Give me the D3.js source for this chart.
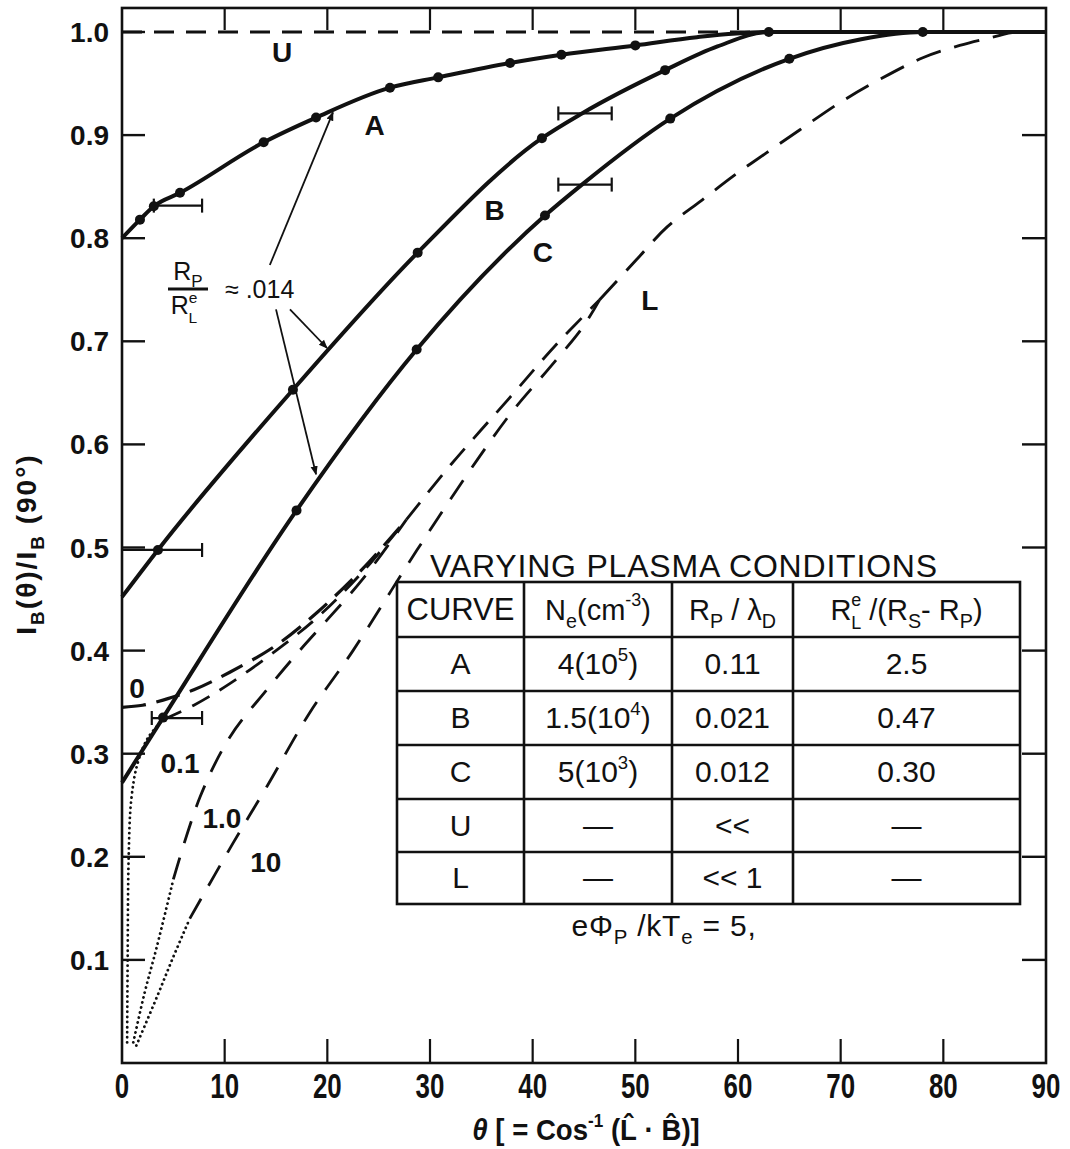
<!DOCTYPE html>
<html><head><meta charset="utf-8">
<script src="https://cdn.jsdelivr.net/npm/d3@7"></script>
<style>
body{margin:0;background:#fff;}
svg{display:block;}
text{font-family:"Liberation Sans", Arial, Helvetica, sans-serif; fill:#111;}
</style></head><body>
<svg id="chart" width="1070" height="1149"></svg>
<script>
// ---------------- data ----------------
const xTickValues = [0,10,20,30,40,50,60,70,80,90];
const yTickValues = [0.1,0.2,0.3,0.4,0.5,0.6,0.7,0.8,0.9,1.0];

const curveA = [[0,0.80],[1.75,0.818],[3.1,0.831],[5.65,0.844],[13.8,0.893],[18.9,0.917],[26.1,0.946],[30.8,0.956],[37.8,0.970],[42.8,0.978],[50,0.987],[56,0.995],[63,1.0],[90,1.0]];
const curveB = [[0,0.452],[3.5,0.4976],[16.65,0.653],[28.8,0.786],[40.9,0.897],[44.8,0.921],[52.9,0.963],[58,0.986],[63,1.0],[90,1.0]];
const curveC = [[0,0.272],[4,0.335],[17,0.536],[28.7,0.692],[41.2,0.822],[44.8,0.852],[53.4,0.916],[65,0.974],[72,0.993],[78,1.0],[90,1.0]];
const curveU = [[0,1.0],[90,1.0]];

const dotsA = [[1.75,0.818],[3.1,0.831],[5.65,0.844],[13.8,0.893],[18.9,0.917],[26.1,0.946],[30.8,0.956],[37.8,0.970],[42.8,0.978],[50,0.987]];
const dotsB = [[3.5,0.4976],[16.65,0.653],[28.8,0.786],[40.9,0.897],[52.9,0.963],[63,1.0]];
const dotsC = [[4,0.335],[17,0.536],[28.7,0.692],[41.2,0.822],[53.4,0.916],[65,0.974],[78,1.0]];

// horizontal error bars: [y, xLow, xHigh]
const errorBars = [[0.8316,3.1,7.8],[0.4976,0,7.8],[0.3346,2.9,7.8],[0.921,42.5,47.7],[0.852,42.5,47.7]];

// lower family (parameter 0, 0.1, 1.0, 10) and limit L
const curve0 = [[0,0.345],[2,0.347],[4,0.352],[7,0.362],[10.5,0.379],[15,0.405],[19,0.437],[23.5,0.48],[27.7,0.527]];
const curve01Dotted = [[0.5,0.02],[0.55,0.1],[0.65,0.2],[0.9,0.255],[1.5,0.29],[2.5,0.315],[4,0.333]];
const curve01Dashed = [[4,0.333],[7,0.347],[10.5,0.368],[15,0.4],[19,0.432],[23.5,0.477],[27.7,0.527]];
const curve1Dotted = [[1.1,0.02],[2.2,0.068],[3.4,0.113],[5,0.178]];
const curve1Dashed = [[5,0.178],[7.6,0.258],[10.5,0.316],[14.1,0.362],[17.3,0.40],[20,0.43],[23.5,0.47],[27.7,0.527]];
const curve10Dotted = [[1.4,0.017],[3.4,0.064],[5,0.103],[6.6,0.14]];
const curve10Dashed = [[6.6,0.14],[10.8,0.213],[14.1,0.268],[18.3,0.34],[22.5,0.40],[28.7,0.497],[34.6,0.585],[38.1,0.633],[41.7,0.675],[44.9,0.714],[46.5,0.74]];
const curveMerged = [[27.7,0.527],[32,0.58],[38,0.648],[42.4,0.698],[46.5,0.74]];
const curveL = [[46.5,0.74],[50.1,0.779],[53.1,0.811],[56.5,0.837],[59.5,0.86],[62.8,0.883],[66,0.905],[70,0.932],[73.8,0.954],[78,0.975],[81.6,0.987],[84.8,0.995],[87,1.0],[90,1.0]];

const curveLabels = ["U","A","B","C","L"];
const curveLabelAt = [[15.6,0.981],[24.6,0.91],[36.3,0.827],[41,0.787],[51.4,0.74]];
const paramLabels = ["0","0.1","1.0","10"];
const paramLabelAt = [[1.46,0.364],[5.65,0.291],[9.74,0.238],[14,0.195]];

// annotation  R_P/R_L^e ≈ .014 : pointer start / end (data units)
const pointerFrom = [[14.4,0.774],[16.36,0.731],[15,0.731]];
const pointerTo = [[20.55,0.922],[19.97,0.6935],[18.9,0.571]];

// table
const tableTitle = "VARYING PLASMA CONDITIONS";
const tableHeader = [[["CURVE"]],[["N"],["e","sub"],["(cm"],["-3","sup"],[")"]],[["R"],["P","sub"],[" / λ"],["D","sub"]],[["R"],["e","sup"],["L","subx"],[" /(R"],["S","sub"],["- R"],["P","sub"],[")"]]];
const tableCurve = ["A","B","C","U","L"];
const tableNe = [[["4(10"],["5","sup"],[")"]],[["1.5(10"],["4","sup"],[")"]],[["5(10"],["3","sup"],[")"]],[["—"]],[["—"]]];
const tableRpLd = ["0.11","0.021","0.012","<<","<< 1"];
const tableRatio = ["2.5","0.47","0.30","—","—"];
const footnote = [["eΦ"],["P","sub"],[" /kT"],["e","sub"],["  =  5,"]];

// ---------------- drawing ----------------
const svg = d3.select("#chart");
const x = d3.scaleLinear().domain([0,90]).range([122,1046]);
const y = d3.scaleLinear().domain([0,1]).range([1063,32]);
const yTop = 1.0233;

function rich(g, px, py, segs, size, anchor){
  const t = g.append("text").attr("x",px).attr("y",py).attr("font-size",size).attr("text-anchor",anchor||"middle");
  let cur = 0;
  segs.forEach(s=>{
    const kind = s[1];
    let shift = 0, fs = size;
    if(kind==="sub"){shift=0.28; fs=size*0.68;}
    if(kind==="sup"){shift=-0.45; fs=size*0.62;}
    const ts = t.append("tspan").text(s[0]).attr("font-size",fs);
    if(kind==="subx"){ // subscript placed under preceding superscript
      ts.attr("font-size",size*0.62).attr("dx",-size*0.35);
      shift=0.34;
    }
    const dy = (shift-cur)*size;
    if(dy) ts.attr("dy",dy);
    cur = shift;
  });
  return t;
}

// frame
svg.append("rect").attr("x",x(0)).attr("y",y(yTop)).attr("width",x(90)-x(0)).attr("height",y(0)-y(yTop))
  .attr("fill","none").attr("stroke","#111").attr("stroke-width",2.6);

const axG = svg.append("g");
yTickValues.forEach(v=>{
  axG.append("line").attr("x1",x(0)).attr("x2",x(0)+23).attr("y1",y(v)).attr("y2",y(v)).attr("stroke","#111").attr("stroke-width",2.4);
  if(v<1) axG.append("line").attr("x1",x(90)).attr("x2",x(90)-24).attr("y1",y(v)).attr("y2",y(v)).attr("stroke","#111").attr("stroke-width",2.4);
  axG.append("text").attr("x",x(0)-13).attr("y",y(v)+10).attr("text-anchor","end").attr("font-size",28).attr("font-weight","bold").text(v.toFixed(1));
});
xTickValues.forEach(v=>{
  if(v>0 && v<90){
    axG.append("line").attr("x1",x(v)).attr("x2",x(v)).attr("y1",y(0)).attr("y2",y(0)-24).attr("stroke","#111").attr("stroke-width",2.2);
    axG.append("line").attr("x1",x(v)).attr("x2",x(v)).attr("y1",y(yTop)).attr("y2",y(yTop)+22).attr("stroke","#111").attr("stroke-width",2.2);
  }
  axG.append("text").attr("transform",`translate(${x(v)},${y(0)+35}) scale(0.74,1)`).attr("text-anchor","middle")
    .attr("font-size",35).attr("font-weight","bold").text(v);
});

// axis titles
const xt = svg.append("g").attr("transform",`translate(586,1140) scale(0.92,1)`);
rich(xt,0,0,[["θ"],[" [ = Cos"],["-1","sup"],["  (L̂ · B̂)]"]],30,"middle").attr("font-weight","bold")
  .select("tspan").attr("font-style","italic");
const yt = svg.append("g").attr("transform",`translate(36,544) rotate(-90)`);
rich(yt,0,0,[["I"],["B","sub"],["(θ)/I"],["B","sub"],[" (90°)"]],28,"middle").attr("font-weight","bold").attr("letter-spacing",2);

// curves
const line = d3.line().x(d=>x(d[0])).y(d=>y(d[1]));
const smooth = d3.line().x(d=>x(d[0])).y(d=>y(d[1])).curve(d3.curveMonotoneX);
const cr = d3.line().x(d=>x(d[0])).y(d=>y(d[1])).curve(d3.curveCatmullRom.alpha(0.5));
const cg = svg.append("g").attr("fill","none").attr("stroke","#111");

cg.append("path").attr("d",line(curveU)).attr("stroke-width",2.8).attr("stroke-dasharray","20,12");
const dash = (d,w,da,gen)=>cg.append("path").attr("d",(gen||cr)(d)).attr("stroke-width",w).attr("stroke-dasharray",da);
dash(curve0,3.2,"24,11");
dash(curve01Dashed,2.8,"20,12");
dash(curve01Dotted,2.8,"0.1,5").attr("stroke-linecap","round");
dash(curve1Dotted,2.8,"0.1,5").attr("stroke-linecap","round");
dash(curve10Dotted,2.8,"0.1,5").attr("stroke-linecap","round");
dash(curve1Dashed,2.8,"23,15");
dash(curve10Dashed,2.8,"23,15");
dash(curveMerged,2.8,"22,13");
dash(curveL,2.9,"26,14");

[curveA,curveB,curveC].forEach(c=>{
  cg.append("path").attr("d",smooth(c)).attr("stroke-width",4);
});

// error bars
const eg = svg.append("g").attr("stroke","#111").attr("stroke-width",2.2);
errorBars.forEach(e=>{
  eg.append("line").attr("x1",x(e[1])).attr("x2",x(e[2])).attr("y1",y(e[0])).attr("y2",y(e[0]));
  [e[1],e[2]].forEach(v=>{ if(v>0) eg.append("line").attr("x1",x(v)).attr("x2",x(v)).attr("y1",y(e[0])-7).attr("y2",y(e[0])+7); });
});

// dots
[dotsA,dotsB,dotsC].forEach(ds=>{
  svg.append("g").selectAll("circle").data(ds).join("circle")
    .attr("cx",d=>x(d[0])).attr("cy",d=>y(d[1])).attr("r",5).attr("fill","#111");
});

// labels
const lg = svg.append("g");
curveLabels.forEach((t,i)=>{
  lg.append("text").attr("x",x(curveLabelAt[i][0])).attr("y",y(curveLabelAt[i][1])+10).attr("text-anchor","middle")
    .attr("font-size",28).attr("font-weight","bold").text(t);
});
paramLabels.forEach((t,i)=>{
  lg.append("text").attr("x",x(paramLabelAt[i][0])).attr("y",y(paramLabelAt[i][1])+10).attr("text-anchor","middle")
    .attr("font-size",28).attr("font-weight","bold").text(t);
});

// annotation
svg.append("defs").append("marker").attr("id","arr").attr("viewBox","0 0 10 10").attr("refX",9).attr("refY",5)
  .attr("markerWidth",9).attr("markerHeight",9).attr("orient","auto-start-reverse").attr("markerUnits","userSpaceOnUse")
  .append("path").attr("d","M0,1 L10,5 L0,9 Z").attr("fill","#111");
pointerFrom.forEach((p,i)=>{
  svg.append("line").attr("x1",x(p[0])).attr("y1",y(p[1])).attr("x2",x(pointerTo[i][0])).attr("y2",y(pointerTo[i][1]))
    .attr("stroke","#111").attr("stroke-width",1.8).attr("marker-end","url(#arr)");
});
const an = svg.append("g");
rich(an,188,280,[["R"],["P","sub"]],25,"middle");
an.append("line").attr("x1",168).attr("x2",208).attr("y1",289).attr("y2",289).attr("stroke","#111").attr("stroke-width",3);
rich(an,184,314,[["R"],["e","sup"],["L","subx"]],25,"middle");
an.append("text").attr("x",225).attr("y",298).attr("font-size",25).text("≈ .014");

// table
const cols = [397,524,672,793,1020];
const rows = [582,637,691,745,799,852,904];
const tg = svg.append("g");
tg.append("text").attr("x",684).attr("y",rows[0]-5).attr("text-anchor","middle").attr("font-size",32).attr("letter-spacing",0.8).text(tableTitle);
tg.append("rect").attr("x",cols[0]).attr("y",rows[0]).attr("width",cols[4]-cols[0]).attr("height",rows[6]-rows[0])
  .attr("fill","#fff").attr("stroke","#111").attr("stroke-width",2.6);
cols.slice(1,4).forEach(c=>tg.append("line").attr("x1",c).attr("x2",c).attr("y1",rows[0]).attr("y2",rows[6]).attr("stroke","#111").attr("stroke-width",2.6));
rows.slice(1,6).forEach(r=>tg.append("line").attr("x1",cols[0]).attr("x2",cols[4]).attr("y1",r).attr("y2",r).attr("stroke","#111").attr("stroke-width",2.6));
const cx = i=>(cols[i]+cols[i+1])/2;
const cy = j=>(rows[j]+rows[j+1])/2+10;
tableHeader.forEach((h,i)=>rich(tg,cx(i),cy(0),h,i===0?31:29,"middle"));
tableCurve.forEach((t,j)=>rich(tg,cx(0),cy(j+1),[[t]],30,"middle"));
tableNe.forEach((t,j)=>rich(tg,cx(1),cy(j+1),t,30,"middle"));
tableRpLd.forEach((t,j)=>rich(tg,cx(2),cy(j+1),[[t]],30,"middle"));
tableRatio.forEach((t,j)=>rich(tg,cx(3),cy(j+1),[[t]],30,"middle"));
rich(tg,664,936,footnote,30,"middle").attr("letter-spacing",0.8);
</script>
</body></html>
